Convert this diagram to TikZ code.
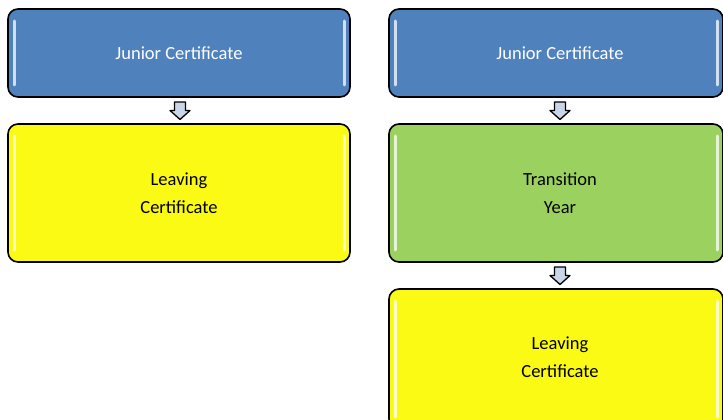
\documentclass[tikz,border=0pt]{standalone}
\usepackage{fontspec}
\setmainfont{Carlito}
\usetikzlibrary{calc}
\definecolor{boxblue}{HTML}{4F81BD}
\definecolor{boxyellow}{HTML}{FAFA14}
\definecolor{boxgreen}{HTML}{9BD25F}
\definecolor{arrowfill}{HTML}{C9D5E8}
\tikzset{
  txt/.style={font=\fontsize{18.5}{28}\selectfont, align=center},
  box/.style={draw=black, line width=1.6pt, rounded corners=10pt, inner sep=0pt,
    txt,
    path picture={
      \draw[white, opacity=0.75, line width=3pt, line cap=round]
        ([xshift=6pt,yshift=-12pt]path picture bounding box.north west) --
        ([xshift=6pt,yshift=12pt]path picture bounding box.south west);
      \draw[white, opacity=0.75, line width=3pt, line cap=round]
        ([xshift=-6pt,yshift=-12pt]path picture bounding box.north east) --
        ([xshift=-6pt,yshift=12pt]path picture bounding box.south east);
    }},
  bluebox/.style={box, fill=boxblue, text=white},
  yellowbox/.style={box, fill=boxyellow, text=black},
  greenbox/.style={box, fill=boxgreen, text=black},
  blockarrow/.style={draw=black, line width=1.3pt, fill=arrowfill, line join=round}
}
% #1 from node, #2 to node, #3 horizontal shift
\newcommand\blockarr[3]{%
  \path ($(#1.south)!0.5!(#2.north)+(#3,0)$) coordinate (m#1#2);
  \draw[blockarrow] ([xshift=-5.5pt,yshift=8.5pt]m#1#2) -- ([xshift=5.5pt,yshift=8.5pt]m#1#2)
    -- ([xshift=5.5pt,yshift=0pt]m#1#2) -- ([xshift=10pt,yshift=0pt]m#1#2)
    -- ([xshift=0pt,yshift=-9pt]m#1#2) -- ([xshift=-10pt,yshift=0pt]m#1#2)
    -- ([xshift=-5.5pt,yshift=0pt]m#1#2) -- cycle;}
\begin{document}
\begin{tikzpicture}[x=1pt,y=-1pt]
\clip (0,0) rectangle (723,420);
\fill[white] (0,0) rectangle (723,420);
% left column
\node[bluebox, minimum width=342pt, minimum height=88pt] (jc1) at (179,53) {Junior Certificate};
\node[yellowbox, minimum width=342pt, minimum height=138pt] (lc1) at (179,193) {Leaving\\Certificate};
% right column
\node[bluebox, minimum width=334pt, minimum height=88pt] (jc2) at (556,53) {};
\node[txt, text=white] (t1) at (560,53) {Junior Certificate};
\node[greenbox, minimum width=334pt, minimum height=138pt] (ty) at (556,193) {};
\node[txt] (t2) at (560,193) {Transition\\Year};
\node[yellowbox, minimum width=334pt, minimum height=140pt] (lc2) at (556,359) {};
\node[txt] (t3) at (560,357) {Leaving\\Certificate};
% arrows
\blockarr{jc1}{lc1}{1}
\blockarr{jc2}{ty}{4}
\blockarr{ty}{lc2}{4}
\end{tikzpicture}
\end{document}
